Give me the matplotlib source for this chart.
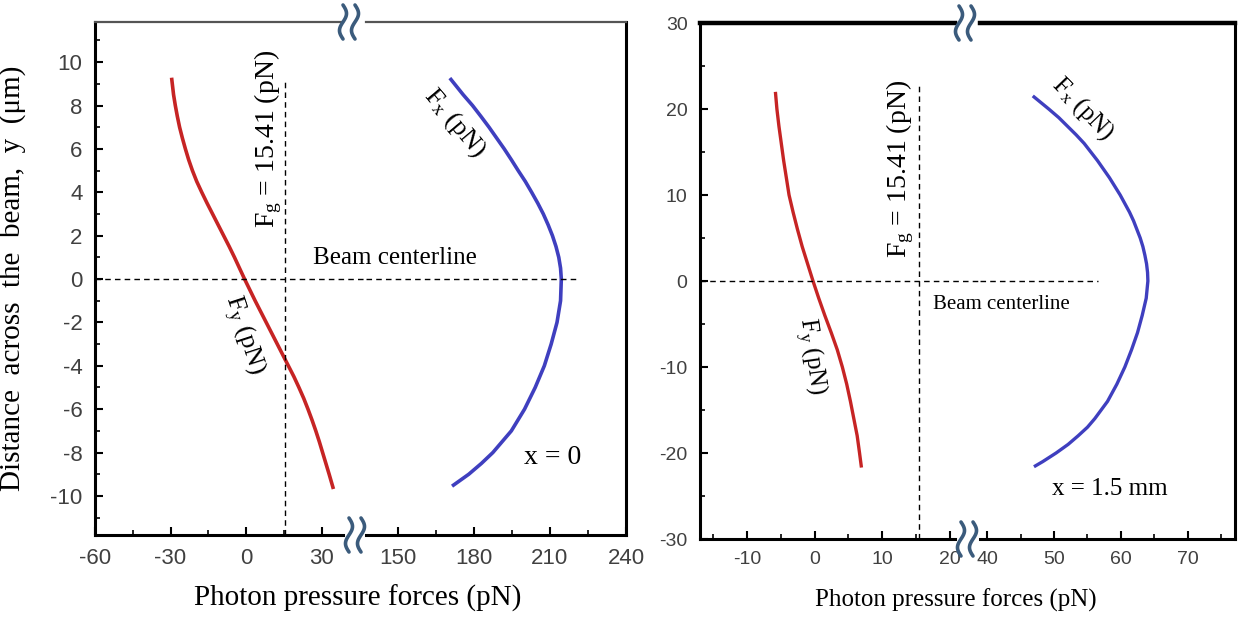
import numpy as np
import matplotlib
matplotlib.use("Agg")
import matplotlib.pyplot as plt
from matplotlib.lines import Line2D
from matplotlib.ticker import MultipleLocator

plt.rcParams['font.family'] = ['Liberation Serif', 'DejaVu Serif']
plt.rcParams['mathtext.fontset'] = 'custom'
plt.rcParams['mathtext.rm'] = 'Liberation Serif'
plt.rcParams['mathtext.it'] = 'Liberation Serif:italic'
plt.rcParams['axes.unicode_minus'] = False

# ---- data ----
# x = 0
y_fy0 = [9.2, 8.5, 8, 7.5, 7, 6.5, 6, 5.5, 5, 4.5, 4, 3.5, 3, 2.5, 2, 1.5, 1, 0.5, 0,
         -0.5, -1, -1.5, -2, -2.5, -3, -3.5, -4, -4.5, -5, -5.5, -6, -6.5, -7, -7.5, -8, -8.5, -9, -9.6]
fy0 = [-29.5, -28.8, -28.1, -27.3, -26.4, -25.3, -24.1, -22.8, -21.3, -19.6, -17.6, -15.5, -13.3, -11.1,
       -8.9, -6.7, -4.6, -2.6, -0.6, 1.5, 3.6, 5.8, 8, 10.2, 12.4, 14.6, 16.8, 19, 21, 22.9, 24.6, 26.2,
       27.7, 29.1, 30.4, 31.7, 33, 34.5]
y_fx0 = [9.2, 8.5, 8, 7.5, 7, 6.5, 6, 5.5, 5, 4.5, 4, 3.5, 3, 2.5, 2, 1.5, 1, 0.5, 0,
         -1, -2, -3, -4, -5, -6, -7, -8, -8.5, -9, -9.5]
fx0 = [171, 175.8, 179.5, 182.8, 186, 189, 192, 194.8, 197.5, 200.3, 202.8, 205.2, 207.4, 209.3, 211,
       212.4, 213.5, 214.2, 214.5, 214.2, 212.8, 210.5, 207.8, 204.2, 200, 194.8, 187.5, 183, 178, 172]

# x = 1.5 mm
y_fy15 = [21.8, 20, 18, 16, 14, 12, 10, 8, 6, 4, 2, 0, -2, -4, -6, -8, -10, -12, -14, -16, -18, -20, -21.5]
fy15 = [-5.8, -5.6, -5.3, -4.95, -4.6, -4.2, -3.8, -3.2, -2.55, -1.85, -1.05, -0.25, 0.6, 1.5, 2.45,
        3.35, 4.1, 4.75, 5.3, 5.8, 6.3, 6.65, 6.9]
y_fx15 = [21.4, 20, 19, 18, 17, 16, 15, 14, 13, 12, 11, 10, 9, 8, 7, 6, 5, 4, 3, 2, 1, 0,
          -2, -4, -6, -8, -10, -12, -14, -16, -17, -18, -19, -20, -21, -21.5]
fx15 = [47, 49.2, 50.7, 52, 53.3, 54.5, 55.5, 56.5, 57.4, 58.3, 59.1, 59.9, 60.6, 61.3, 61.9, 62.4,
        62.9, 63.3, 63.6, 63.85, 64, 64.05, 63.8, 63.2, 62.5, 61.6, 60.6, 59.4, 58, 56.1, 55, 53.6,
        52.1, 50.3, 48.3, 47.2]

fg = 15.41

RED = '#c62424'
BLUE = '#3f3fbf'
TICKC = '#404040'
BRK = '#3b5b7c'

W, H = 1239, 619
fig = plt.figure(figsize=(W / 100, H / 100), dpi=100)


def box(x0, x1, y0, y1):
    return [x0 / W, 1 - y1 / H, (x1 - x0) / W, (y1 - y0) / H]


def style(ax, lsize, side):
    ax.set_facecolor('none')
    ax.tick_params(which='both', direction='in', labelsize=lsize, labelcolor=TICKC,
                   top=False, right=False, labelfontfamily='Liberation Sans')
    ax.tick_params(which='major', length=6, width=1.5, pad=9)
    ax.tick_params(which='minor', length=3.5, width=1.2)
    if side == 'left':
        ax.spines['right'].set_visible(False)
    else:
        ax.spines['left'].set_visible(False)
        ax.tick_params(axis='y', which='both', left=False, labelleft=False)


def squiggle(xc, yc):
    t = np.linspace(-0.5, 0.5, 50)
    for dx in (-6, 6):
        xs = xc + dx - 3.5 * np.sin(2 * np.pi * t)
        ys = yc + 34 * t
        fig.add_artist(Line2D(xs / W, 1 - ys / H, color=BRK, lw=2.6,
                              solid_capstyle='round'))


# ---------------- left panel (x = 0) ----------------
a1 = fig.add_axes(box(95, 343, 22, 535))
a2 = fig.add_axes(box(366, 626, 22, 535), sharey=a1)
a1.set_xlim(-60, 38.5)
a2.set_xlim(137.5, 240)
a1.set_ylim(-11.8, 11.85)
for ax, side in ((a1, 'left'), (a2, 'right')):
    style(ax, 16, side)
    for s in ('left', 'bottom', 'right'):
        ax.spines[s].set_linewidth(2.2)
    ax.spines['top'].set_linewidth(1.6)
    ax.spines['top'].set_color('#555555')
a1.set_xticks([-60, -30, 0, 30])
a1.set_xticks([-45, -15, 15], minor=True)
a2.set_xticks([150, 180, 210, 240])
a2.set_xticks([165, 195, 225], minor=True)
a1.yaxis.set_major_locator(MultipleLocator(2))
a1.yaxis.set_minor_locator(MultipleLocator(1))

a1.plot(fy0, y_fy0, color=RED, lw=2.6)
a2.plot(fx0, y_fx0, color=BLUE, lw=2.6)
a1.plot([-60, 48], [0, 0], ls=(0, (4, 3)), color='k', lw=1.0, clip_on=False)
a2.plot([137.5, 221], [0, 0], ls=(0, (4, 3)), color='k', lw=1.0)
a1.plot([fg, fg], [-11.8, 9.1], ls=(0, (4, 3)), color='k', lw=1.0)

a1.text(8.7, 6.45, r'F$_{\rm g}$ = 15.41 (pN)', rotation=90, ha='center', va='center', fontsize=20)
a1.text(26.6, 0.97, 'Beam centerline', ha='left', va='center', fontsize=18, clip_on=False)
a1.text(-1.2, -2.6, r'F$_{\rm y}$ (pN)', rotation=-72, ha='center', va='center', fontsize=19)
a2.text(172.5, 7.2, r'F$_{\rm x}$ (pN)', rotation=-50, ha='center', va='center', fontsize=19)
a2.text(210.9, -8.25, 'x = 0', ha='center', va='center', fontsize=20)

a1.set_ylabel('Distance  across  the  beam,  y  (\u03bcm)', fontsize=21)
a1.yaxis.set_label_coords(-0.28, 0.5)
fig.text(358 / W, 1 - 598 / H, 'Photon pressure forces (pN)', ha='center', va='center', fontsize=21)

squiggle(349, 22)
squiggle(355, 535)

# ---------------- right panel (x = 1.5 mm) ----------------
b1 = fig.add_axes(box(700, 955, 23, 539))
b2 = fig.add_axes(box(980, 1235, 23, 539), sharey=b1)
b1.set_xlim(-17, 20.8)
b2.set_xlim(38.9, 77.1)
b1.set_ylim(-30, 30)
for ax, side in ((b1, 'left'), (b2, 'right')):
    style(ax, 14, side)
    for s in ('left', 'bottom', 'right'):
        ax.spines[s].set_linewidth(2.2)
    ax.spines['top'].set_linewidth(3.2)
b1.set_xticks([-10, 0, 10, 20])
b1.set_xticks([-15, -5, 5, 15], minor=True)
b2.set_xticks([40, 50, 60, 70])
b2.set_xticks([45, 55, 65, 75], minor=True)
b1.yaxis.set_major_locator(MultipleLocator(10))
b1.yaxis.set_minor_locator(MultipleLocator(5))

b1.plot(fy15, y_fy15, color=RED, lw=2.4)
b2.plot(fx15, y_fx15, color=BLUE, lw=2.4)
b1.plot([-17, 24.5], [0, 0], ls=(0, (4, 3)), color='k', lw=1.0, clip_on=False)
b2.plot([38.9, 56.6], [0, 0], ls=(0, (4, 3)), color='k', lw=1.0)
b1.plot([fg, fg], [-30, 23], ls=(0, (4, 3)), color='k', lw=1.0)

b1.text(12.7, 13.0, r'F$_{\rm g}$ = 15.41 (pN)', rotation=90, ha='center', va='center', fontsize=20)
b1.text(17.5, -2.7, 'Beam centerline', ha='left', va='center', fontsize=15, clip_on=False)
b1.text(-0.6, -8.8, r'F$_{\rm y}$ (pN)', rotation=-82, ha='center', va='center', fontsize=18)
b2.text(54.3, 20.0, r'F$_{\rm x}$ (pN)', rotation=-46, ha='center', va='center', fontsize=18)
b2.text(58.4, -24.2, 'x = 1.5 mm', ha='center', va='center', fontsize=18)

fig.text(956 / W, 1 - 600 / H, 'Photon pressure forces (pN)', ha='center', va='center', fontsize=18)

squiggle(965, 23)
squiggle(967, 539)

fig.savefig('out.png', dpi=100)
